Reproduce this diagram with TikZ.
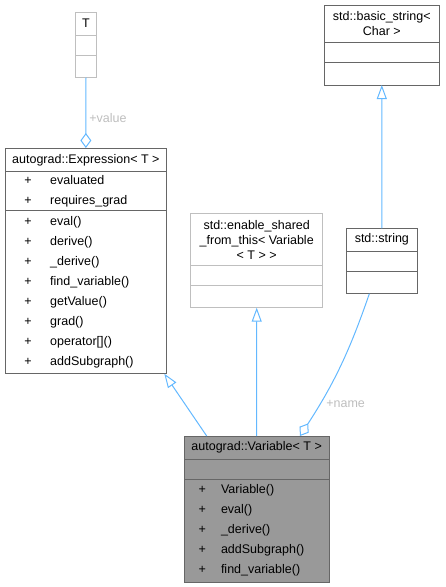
\documentclass[tikz,border=0pt]{standalone}
\usepackage{fontspec}
\setmainfont{Liberation Sans}
\usepackage{xcolor}
\usepackage{tikz}
\usetikzlibrary{arrows.meta, positioning}
\definecolor{umlEdge}{HTML}{63B8FF}
\definecolor{umlBorder}{HTML}{666666}
\definecolor{umlLight}{HTML}{BFBFBF}
\definecolor{umlLabel}{HTML}{BEBEBE}
\definecolor{umlFocus}{HTML}{999999}
\newcommand{\pub}[1][25.8pt]{\makebox[#1][l]{+}}

\begin{document}
\begin{tikzpicture}[
  x=1pt, y=-1pt,
  font=\fontsize{12.5}{15}\selectfont,
  part/.style={draw=umlBorder, line width=1pt, fill=white, inner sep=0pt,
               outer sep=0pt, align=center},
  faint/.style={part, draw=umlLight},
  focus/.style={part, fill=umlFocus},
  members/.style={align=left, font=\fontsize{12.5}{20}\selectfont},
  inh/.style={-{Triangle[open, length=14pt, width=10pt]}, line width=1pt, draw=umlEdge},
  agg/.style={-{Diamond[open, length=15pt, width=11pt]}, line width=1pt, draw=umlEdge},
  role/.style={text=umlLabel, inner sep=0pt}
]
\useasboundingbox (0,0) rectangle (445,587);

\node[faint, anchor=north west, minimum width=21.4pt, minimum height=22.7pt] (ttitle) at (75.3,12.3) {T};
\node[faint, below=0pt of ttitle, minimum width=21.4pt, minimum height=20pt] (tattr) {};
\node[faint, below=0pt of tattr, minimum width=21.4pt, minimum height=22.7pt] (tmeth) {};

\node[part, anchor=north west, minimum width=161.7pt, minimum height=23.7pt] (etitle) at (5,148) {autograd::Expression< T >};
\node[part, members, below=0pt of etitle, text width=122.9pt, inner xsep=19.4pt, minimum height=39pt] (eattr)
  {\pub evaluated\\\pub requires\_grad};
\node[part, members, below=0pt of eattr, text width=122.9pt, inner xsep=19.4pt, minimum height=162.3pt] (emeth)
  {\pub eval()\\\pub derive()\\\pub \_derive()\\\pub find\_variable()\\
   \pub getValue()\\\pub grad()\\\pub operator[]()\\\pub addSubgraph()};

\node[faint, anchor=north west, minimum width=132pt, minimum height=52pt] (shtitle) at (190.7,213.7)
  {std::enable\_shared\\\_from\_this< Variable\\< T > >};
\node[faint, below=0pt of shtitle, minimum width=132pt, minimum height=20pt] (shattr) {};
\node[faint, below=0pt of shattr, minimum width=132pt, minimum height=22pt] (shmeth) {};

\node[part, anchor=north west, minimum width=115pt, minimum height=37.7pt] (bstitle) at (324.3,5)
  {std::basic\_string<\\Char >};
\node[part, below=0pt of bstitle, minimum width=115pt, minimum height=20pt] (bsattr) {};
\node[part, below=0pt of bsattr, minimum width=115pt, minimum height=22.3pt] (bsmeth) {};

\node[part, anchor=north west, minimum width=70.3pt, minimum height=22.7pt] (stitle) at (346.7,228.3) {std::string};
\node[part, below=0pt of stitle, minimum width=70.3pt, minimum height=20.7pt] (sattr) {};
\node[part, below=0pt of sattr, minimum width=70.3pt, minimum height=22pt] (smeth) {};

\node[focus, anchor=north west, minimum width=145.3pt, minimum height=23.3pt] (vtitle) at (184,436) {autograd::Variable< T >};
\node[focus, below=0pt of vtitle, minimum width=145.3pt, minimum height=19.7pt] (vattr) {};
\node[focus, members, below=0pt of vattr, text width=115.9pt, inner xsep=14.7pt, minimum height=103pt] (vmeth)
  {\pub[22.3pt]Variable()\\\pub[22.3pt]eval()\\\pub[22.3pt]\_derive()\\
   \pub[22.3pt]addSubgraph()\\\pub[22.3pt]find\_variable()};

\draw[agg] (tmeth.south) -- (etitle.north)
  node[pos=0.57, right=3pt, role] {+value};
\draw[inh] (stitle.north) -- (bsmeth.south);
\draw[inh] (vtitle.north) -- (shmeth.south);
\draw[inh] ([xshift=22.7pt]vtitle.north west) -- ([xshift=-2.4pt,yshift=-0.7pt]emeth.south east);
\draw[agg] ([xshift=-12.5pt]smeth.south) to[bend left=7]
  node[pos=0.78, right=6pt, role] {+name} ([xshift=116pt]vtitle.north west);

\end{tikzpicture}
\end{document}
